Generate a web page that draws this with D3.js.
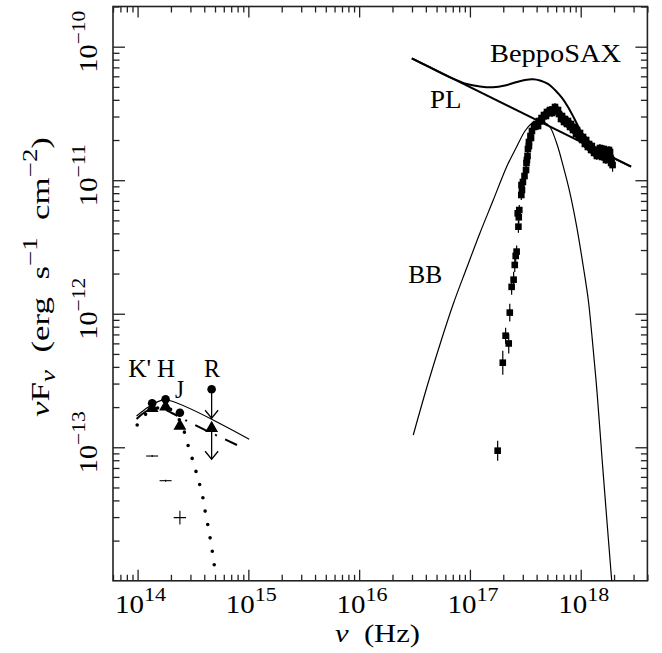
<!DOCTYPE html>
<html><head><meta charset="utf-8">
<script src="https://cdn.jsdelivr.net/npm/d3@7/dist/d3.min.js"></script>
<style>
body{margin:0;background:#fff;}
svg text{font-family:"Liberation Serif","DejaVu Serif",serif;fill:#000;white-space:pre;}
</style></head><body>
<svg id="c" width="662" height="653" font-family="Liberation Serif, DejaVu Serif, serif"></svg>
<script>
// ---------- axes / tick labels ----------
const xDomain=[6e13,4e18];
const yDomain=[1e-14,2e-10];
const xMajor=[1e14,1e15,1e16,1e17,1e18];
const xTickExp=["14","15","16","17","18"];
const yMajor=[1e-13,1e-12,1e-11,1e-10];
const yTickExp=["\u221213","\u221212","\u221211","\u221210"];

// ---------- X-ray data (BeppoSAX) ----------
const xrayNu=[1.78e17,1.98e17,2.10e17,2.24e17,2.29e17,2.38e17,2.48e17,2.54e17,2.59e17,2.64e17,
 2.74e17,2.76e17,2.70e17,2.79e17,2.91e17,2.95e17,2.92e17,3.01e17,3.11e17,3.21e17,
 3.24e17,3.31e17,3.34e17,3.41e17,3.52e17,3.63e17,3.79e17,3.99e17,4.20e17,4.43e17,
 4.66e17,4.96e17,5.28e17,5.62e17,5.98e17,6.37e17,6.78e17,7.21e17,7.68e17,8.17e17,
 8.70e17,9.26e17,9.86e17,1.05e18,1.12e18,1.19e18,1.26e18,1.35e18,1.43e18,1.51e18,
 1.59e18,1.67e18,1.76e18,1.84e18,1.90e18,1.94e18,1.86e18,1.73e18,
 3.27e17,3.41e17,3.56e17,3.87e17,4.12e17,4.47e17,4.86e17,5.17e17,5.51e17,5.86e17,
 6.24e17,6.64e17,7.07e17,7.52e17,8.01e17,8.52e17,9.07e17,9.65e17,1.03e18,1.09e18,
 1.16e18,1.24e18,1.32e18,1.40e18,1.49e18,1.56e18,1.62e18,1.69e18,1.80e18,1.88e18];
const xrayF=[9.43e-14,4.30e-13,6.85e-13,5.99e-13,1.02e-12,1.59e-12,1.80e-12,2.32e-12,2.71e-12,2.92e-12,
 4.49e-12,5.28e-12,5.65e-12,5.98e-12,7.75e-12,8.45e-12,9.21e-12,9.70e-12,1.075e-11,1.193e-11,
 1.346e-11,1.519e-11,1.714e-11,1.933e-11,2.144e-11,2.337e-11,2.504e-11,2.637e-11,2.777e-11,2.924e-11,
 3.080e-11,3.243e-11,3.357e-11,3.386e-11,3.300e-11,3.133e-11,3.027e-11,2.874e-11,2.777e-11,2.637e-11,
 2.504e-11,2.377e-11,2.258e-11,2.107e-11,2.001e-11,1.867e-11,1.804e-11,1.684e-11,1.684e-11,1.627e-11,
 1.572e-11,1.600e-11,1.519e-11,1.627e-11,1.417e-11,1.300e-11,1.467e-11,1.467e-11,
 1.417e-11,1.804e-11,2.071e-11,2.592e-11,2.547e-11,2.777e-11,3.027e-11,3.188e-11,3.188e-11,3.535e-11,
 3.357e-11,2.874e-11,2.729e-11,2.637e-11,2.504e-11,2.377e-11,2.220e-11,2.107e-11,2.001e-11,1.867e-11,
 1.774e-11,1.684e-11,1.600e-11,1.519e-11,1.743e-11,1.493e-11,1.714e-11,1.417e-11,1.684e-11,1.346e-11];
const xrayErrDex=[0.075,0.09,0.06,0.075,0.067,0.06,0.06,0.052,0.052,0.045,
 0.045,0.045,0.045,0.037,0.037,0.037,0.037,0.037,0.037,0.03,
 0.03,0.03,0.03,0.03,0.03,0.03,0.03,0.03,0.03,0.03,
 0.03,0.03,0.03,0.03,0.03,0.03,0.03,0.03,0.03,0.03,
 0.03,0.03,0.03,0.03,0.03,0.03,0.03,0.03,0.03,0.03,
 0.03,0.03,0.04,0.04,0.05,0.05,0.04,0.04,
 0.03,0.03,0.03,0.03,0.03,0.03,0.03,0.03,0.03,0.03,
 0.03,0.03,0.03,0.03,0.03,0.03,0.03,0.03,0.03,0.03,
 0.03,0.03,0.03,0.03,0.03,0.03,0.03,0.03,0.03,0.04];

// ---------- model curves ----------
const plNu=[3.0e16,2.85e18];
const plF=[8.19e-11,1.263e-11];
const saxNu=[2.98e16,4.36e16,6.61e16,9.35e16,1.232e17,1.615e17,2.073e17,2.552e17,3.14e17,3.71e17,
 4.29e17,5.07e17,5.86e17,6.78e17,7.68e17,8.70e17,9.86e17,1.117e18,1.265e18,1.494e18,2.85e18];
const saxF=[8.19e-11,6.99e-11,5.90e-11,5.26e-11,5.04e-11,4.97e-11,5.12e-11,5.39e-11,5.63e-11,5.70e-11,
 5.58e-11,5.26e-11,4.74e-11,4.13e-11,3.535e-11,2.924e-11,2.377e-11,2.001e-11,1.789e-11,1.650e-11,1.263e-11];
const bbNu=[3.08e16,4.14e16,5.56e16,7.07e16,9.35e16,1.232e17,1.625e17,2.147e17,2.643e17,3.14e17,
 3.56e17,4.12e17,4.66e17,5.28e17,6.07e17,6.97e17,8.01e17,9.20e17,1.056e18,1.171e18,
 1.257e18,1.404e18,1.557e18,1.728e18,1.905e18];
const bbF=[1.236e-13,2.927e-13,6.47e-13,1.183e-12,2.202e-12,4.025e-12,7.11e-12,1.263e-11,1.783e-11,2.337e-11,
 2.637e-11,2.801e-11,2.729e-11,2.504e-11,1.890e-11,1.263e-11,7.98e-12,4.49e-12,2.25e-12,1.268e-12,
 7.14e-13,2.595e-13,8.32e-14,2.757e-14,1.002e-14];

// ---------- optical / IR ----------
const bandLabels=["K'","H","J","R"];
const circNu=[1.354e14,1.79e14,2.41e14,4.66e14];
const circF=[2.135e-13,2.288e-13,1.816e-13,2.718e-13];
const triNu=[1.354e14,1.79e14,2.41e14,4.66e14];
const triF=[1.959e-13,2.014e-13,1.443e-13,1.387e-13];
const limNu=[4.66e14,4.66e14];
const limFrom=[2.718e-13,1.387e-13];
const limTo=[1.649e-13,8.13e-14];
const crossNu=[1.354e14,1.79e14,2.41e14];
const crossF=[8.60e-14,5.62e-14,2.97e-14];
const crossNuErrDex=[0.054,0.054,0.056];
const crossFErrDex=[0.007,0.007,0.052];
const optSolidNu=[9.79e13,1.164e14,1.433e14,1.827e14,1.018e15];
const optSolidF=[1.715e-13,1.919e-13,2.146e-13,2.260e-13,1.148e-13];
const optDashNu=[9.79e13,1.239e14,1.590e14,2.040e14,3.29e14,9.12e14];
const optDashF=[1.629e-13,1.886e-13,1.969e-13,1.806e-13,1.469e-13,9.83e-14];
const optDotNu=[9.92e13,1.164e14,1.433e14,1.764e14,2.172e14,2.565e14,2.906e14,3.177e14,3.452e14,3.729e14,
 3.968e14,4.137e14,4.403e14,4.590e14,4.815e14,4.989e14];
const optDotF=[1.469e-13,1.745e-13,1.935e-13,2.002e-13,1.806e-13,1.394e-13,9.83e-14,7.80e-14,6.12e-14,4.85e-14,
 3.85e-14,3.06e-14,2.40e-14,1.91e-14,1.516e-14,1.191e-14];

// ---------- text labels (anchor = left end of baseline) ----------
const bandPos=[{nu:8.23e13,f:3.38e-13},{nu:1.494e14,f:3.38e-13},{nu:2.172e14,f:2.339e-13},{nu:3.968e14,f:3.38e-13}];
const bandLen=[23,18,9,16];
const curveLabels=["BeppoSAX","PL","BB"];
const curveLabelNu=[1.517e17,4.36e16,2.78e16];
const curveLabelF=[7.72e-11,3.457e-11,1.708e-12];
const curveLabelLen=[131,31.5,34];

// ================= drawing =================
const W=662,H=653;
const m={l:113,r:14.6,t:6.5,b:72.2};
const FF="Liberation Serif, DejaVu Serif, serif";
const svg=d3.select("#c");
const x=d3.scaleLog().domain(xDomain).range([m.l,W-m.r]);
const y=d3.scaleLog().domain(yDomain).range([H-m.b,m.t]);
const FS=25, SS=19;

svg.append("defs").append("clipPath").attr("id","clip").append("rect")
  .attr("x",m.l).attr("y",m.t).attr("width",W-m.r-m.l).attr("height",H-m.b-m.t);

function minors(dom){
  const out=[];const lo=Math.floor(Math.log10(dom[0])),hi=Math.ceil(Math.log10(dom[1]));
  for(let d=lo;d<=hi;d++)for(let k=2;k<=9;k++){const v=k*Math.pow(10,d);if(v>=dom[0]*0.999&&v<=dom[1]*1.001)out.push(v);}
  return out;
}
const xMin=minors(xDomain),yMin=minors(yDomain);
const axG=svg.append("g").attr("class","axes");
function addAxis(gen,tr,vals,size){
  const g=axG.append("g").attr("transform",tr).call(gen.tickValues(vals).tickSize(size).tickFormat(""));
  g.select(".domain").remove();
  g.selectAll(".tick line").attr("stroke","#222").attr("stroke-width",1.3);
}
const bY=H-m.b, tY=m.t, lX=m.l, rX=W-m.r;
addAxis(d3.axisTop(x),`translate(0,${bY})`,xMajor,11);
addAxis(d3.axisTop(x),`translate(0,${bY})`,xMin,6);
addAxis(d3.axisBottom(x),`translate(0,${tY})`,xMajor,11);
addAxis(d3.axisBottom(x),`translate(0,${tY})`,xMin,6);
addAxis(d3.axisRight(y),`translate(${lX},0)`,yMajor,12);
addAxis(d3.axisRight(y),`translate(${lX},0)`,yMin,6.5);
addAxis(d3.axisLeft(y),`translate(${rX},0)`,yMajor,12);
addAxis(d3.axisLeft(y),`translate(${rX},0)`,yMin,6.5);
axG.append("rect").attr("x",lX).attr("y",tY).attr("width",rX-lX).attr("height",bY-tY)
  .attr("fill","none").attr("stroke","#222").attr("stroke-width",1.6);

function txt(sel){return sel.append("text").attr("font-family",FF).attr("font-size",FS);}
// tick labels
xMajor.forEach((v,i)=>{
  const t=txt(svg).attr("x",x(v)+3).attr("y",613).attr("text-anchor","middle")
    .attr("textLength",51).attr("lengthAdjust","spacingAndGlyphs");
  t.append("tspan").text("10");
  t.append("tspan").attr("dy",-12).attr("font-size",SS).text(xTickExp[i]);
});
yMajor.forEach((v,i)=>{
  const t=txt(svg).attr("transform",`translate(97,${y(v)-5}) rotate(-90)`).attr("text-anchor","middle")
    .attr("textLength",62).attr("lengthAdjust","spacingAndGlyphs");
  t.append("tspan").text("10");
  t.append("tspan").attr("dy",-12).attr("font-size",SS).text(yTickExp[i]);
});
// axis titles
{
  const t=txt(svg).attr("x",377.5).attr("y",642).attr("text-anchor","middle")
    .attr("textLength",85).attr("lengthAdjust","spacingAndGlyphs");
  t.append("tspan").attr("font-style","italic").text("\u03bd");
  t.append("tspan").text("  (Hz)");
}
{
  const t=txt(svg).attr("font-size",26).attr("transform","translate(49,277) rotate(-90)").attr("text-anchor","middle")
    .attr("textLength",280).attr("lengthAdjust","spacingAndGlyphs");
  t.append("tspan").attr("font-style","italic").text("\u03bd");
  t.append("tspan").text("F");
  t.append("tspan").attr("dy",6).attr("font-size",20).attr("font-style","italic").text("\u03bd");
  t.append("tspan").attr("dy",-6).text("  (erg  s");
  t.append("tspan").attr("dy",-12).attr("font-size",20).text("\u22121");
  t.append("tspan").attr("dy",12).text("  cm");
  t.append("tspan").attr("dy",-12).attr("font-size",20).text("\u22122");
  t.append("tspan").attr("dy",12).text(")");
}

// curves
const plot=svg.append("g").attr("clip-path","url(#clip)");
const line=d3.line().x(d=>x(d[0])).y(d=>y(d[1]));
const lineC=d3.line().x(d=>x(d[0])).y(d=>y(d[1])).curve(d3.curveCatmullRom.alpha(0.5));
const zip=(a,b)=>a.map((v,i)=>[v,b[i]]);
plot.append("path").attr("d",line(zip(plNu,plF))).attr("fill","none").attr("stroke","#000").attr("stroke-width",2);
plot.append("path").attr("d",lineC(zip(saxNu,saxF))).attr("fill","none").attr("stroke","#000").attr("stroke-width",2);
plot.append("path").attr("d",lineC(zip(bbNu,bbF))).attr("fill","none").attr("stroke","#000").attr("stroke-width",1.2);
plot.append("path").attr("d",lineC(zip(optSolidNu,optSolidF))).attr("fill","none").attr("stroke","#000").attr("stroke-width",1.2);
plot.append("path").attr("d",lineC(zip(optDashNu,optDashF))).attr("fill","none").attr("stroke","#000").attr("stroke-width",2).attr("stroke-dasharray","13,9,2,9");
plot.append("path").attr("d",lineC(zip(optDotNu,optDotF))).attr("fill","none").attr("stroke","#000").attr("stroke-width",3.6).attr("stroke-linecap","round").attr("stroke-dasharray","0,13.6");

// X-ray data
const xg=plot.append("g");
xrayNu.forEach((nu,i)=>{
  const F=xrayF[i],e=xrayErrDex[i];
  xg.append("line").attr("x1",x(nu)).attr("x2",x(nu)).attr("y1",y(F*Math.pow(10,e))).attr("y2",y(F/Math.pow(10,e)))
    .attr("stroke","#000").attr("stroke-width",1.2);
  xg.append("rect").attr("x",x(nu)-3.3).attr("y",y(F)-3.3).attr("width",6.6).attr("height",6.6).attr("fill","#000");
});

// optical data
const og=plot.append("g");
crossNu.forEach((nu,i)=>{
  const F=crossF[i];
  og.append("line").attr("x1",x(nu/Math.pow(10,crossNuErrDex[i]))).attr("x2",x(nu*Math.pow(10,crossNuErrDex[i])))
    .attr("y1",y(F)).attr("y2",y(F)).attr("stroke","#000").attr("stroke-width",1.1);
  og.append("line").attr("x1",x(nu)).attr("x2",x(nu))
    .attr("y1",y(F*Math.pow(10,crossFErrDex[i]))).attr("y2",y(F/Math.pow(10,crossFErrDex[i]))).attr("stroke","#000").attr("stroke-width",1.1);
});
limNu.forEach((nu,i)=>{
  const X=x(nu),y0=y(limFrom[i]),y1=y(limTo[i]);
  og.append("line").attr("x1",X).attr("x2",X).attr("y1",y0).attr("y2",y1).attr("stroke","#000").attr("stroke-width",1.3);
  og.append("path").attr("d",`M${X-6.5},${y1-8}L${X},${y1}L${X+6.5},${y1-8}`).attr("fill","none").attr("stroke","#000").attr("stroke-width",1.3);
});
circNu.forEach((nu,i)=>{
  og.append("circle").attr("cx",x(nu)).attr("cy",y(circF[i])).attr("r",4.3).attr("fill","#000");
});
const tri=d3.symbol().type(d3.symbolTriangle).size(72);
triNu.forEach((nu,i)=>{
  og.append("path").attr("d",tri()).attr("transform",`translate(${x(nu)},${y(triF[i])})`).attr("fill","#000");
});

// labels
bandLabels.forEach((t,i)=>{
  txt(svg).attr("x",x(bandPos[i].nu)).attr("y",y(bandPos[i].f)).attr("textLength",bandLen[i]).attr("lengthAdjust","spacingAndGlyphs").text(t);
});
curveLabels.forEach((t,i)=>{
  txt(svg).attr("x",x(curveLabelNu[i])).attr("y",y(curveLabelF[i])).attr("textLength",curveLabelLen[i]).attr("lengthAdjust","spacingAndGlyphs").text(t);
});
</script>
</body></html>
